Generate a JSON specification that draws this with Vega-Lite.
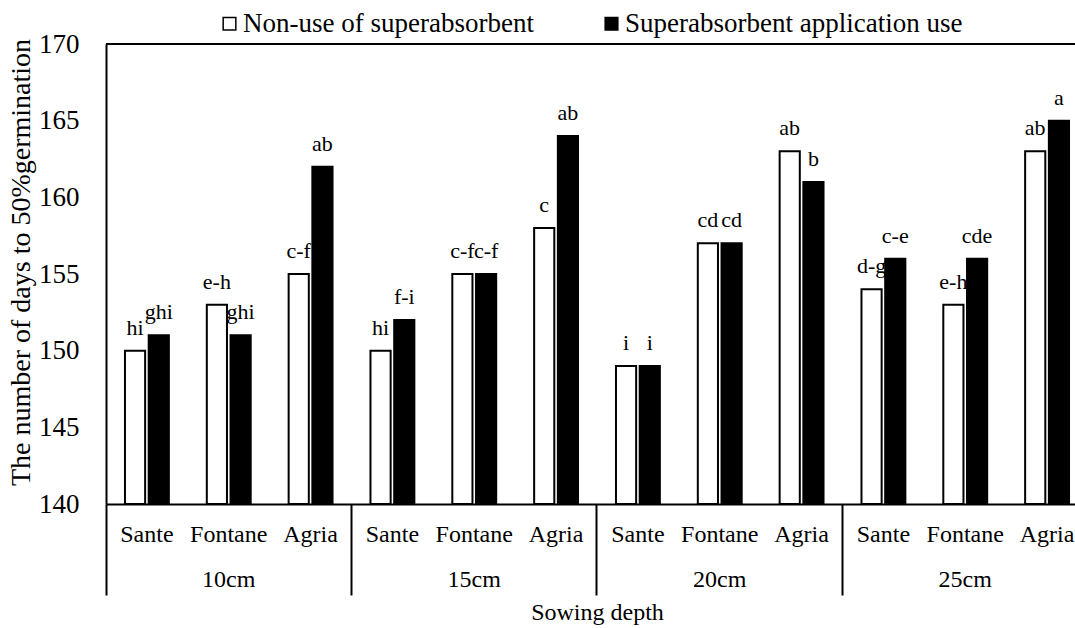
{
  "$schema": "https://vega.github.io/schema/vega-lite/v6.json",
  "width": 969,
  "height": 460,
  "autosize": "none",
  "padding": {"left": 106, "top": 44, "right": 0, "bottom": 124},
  "background": "white",
  "config": {
    "font": "Liberation Serif",
    "view": {"stroke": null},
    "text": {"font": "Liberation Serif"},
    "axis": {
      "labelFont": "Liberation Serif",
      "titleFont": "Liberation Serif",
      "labelColor": "black",
      "titleColor": "black",
      "titleFontWeight": "normal",
      "domainColor": "black",
      "tickColor": "black",
      "grid": false
    },
    "legend": {
      "labelFont": "Liberation Serif",
      "labelColor": "black"
    }
  },
  "data": {
    "values": [
      {"cat": "10cm Sante", "treat": "Non-use of superabsorbent", "val": 150, "letter": "hi"},
      {"cat": "10cm Sante", "treat": "Superabsorbent application use", "val": 151, "letter": "ghi"},
      {"cat": "10cm Fontane", "treat": "Non-use of superabsorbent", "val": 153, "letter": "e-h"},
      {"cat": "10cm Fontane", "treat": "Superabsorbent application use", "val": 151, "letter": "ghi"},
      {"cat": "10cm Agria", "treat": "Non-use of superabsorbent", "val": 155, "letter": "c-f"},
      {"cat": "10cm Agria", "treat": "Superabsorbent application use", "val": 162, "letter": "ab"},
      {"cat": "15cm Sante", "treat": "Non-use of superabsorbent", "val": 150, "letter": "hi"},
      {"cat": "15cm Sante", "treat": "Superabsorbent application use", "val": 152, "letter": "f-i"},
      {"cat": "15cm Fontane", "treat": "Non-use of superabsorbent", "val": 155, "letter": "c-f"},
      {"cat": "15cm Fontane", "treat": "Superabsorbent application use", "val": 155, "letter": "c-f"},
      {"cat": "15cm Agria", "treat": "Non-use of superabsorbent", "val": 158, "letter": "c"},
      {"cat": "15cm Agria", "treat": "Superabsorbent application use", "val": 164, "letter": "ab"},
      {"cat": "20cm Sante", "treat": "Non-use of superabsorbent", "val": 149, "letter": "i"},
      {"cat": "20cm Sante", "treat": "Superabsorbent application use", "val": 149, "letter": "i"},
      {"cat": "20cm Fontane", "treat": "Non-use of superabsorbent", "val": 157, "letter": "cd"},
      {"cat": "20cm Fontane", "treat": "Superabsorbent application use", "val": 157, "letter": "cd"},
      {"cat": "20cm Agria", "treat": "Non-use of superabsorbent", "val": 163, "letter": "ab"},
      {"cat": "20cm Agria", "treat": "Superabsorbent application use", "val": 161, "letter": "b"},
      {"cat": "25cm Sante", "treat": "Non-use of superabsorbent", "val": 154, "letter": "d-g"},
      {"cat": "25cm Sante", "treat": "Superabsorbent application use", "val": 156, "letter": "c-e"},
      {"cat": "25cm Fontane", "treat": "Non-use of superabsorbent", "val": 153, "letter": "e-h"},
      {"cat": "25cm Fontane", "treat": "Superabsorbent application use", "val": 156, "letter": "cde"},
      {"cat": "25cm Agria", "treat": "Non-use of superabsorbent", "val": 163, "letter": "ab"},
      {"cat": "25cm Agria", "treat": "Superabsorbent application use", "val": 165, "letter": "a"}
    ]
  },
  "layer": [
    {
      "mark": {"type": "bar", "stroke": "black", "strokeWidth": 2},
      "encoding": {
        "x": {
          "field": "cat", "type": "nominal", "sort": null,
          "scale": {"range": [0, 982], "paddingInner": 0, "paddingOuter": 0},
          "axis": {
            "orient": "bottom",
            "title": null, "labelExpr": "split(datum.label, ' ')[1]", "labelAngle": 0,
            "ticks": false, "domainWidth": 2, "labelFontSize": 24, "labelPadding": 18,
            "labelBaseline": "top", "labelOverlap": false
          }
        },
        "xOffset": {
          "field": "treat", "type": "nominal", "sort": null,
          "scale": {"domain": ["Non-use of superabsorbent", "Superabsorbent application use"], "paddingInner": 0.15, "paddingOuter": 0.8}
        },
        "y": {
          "field": "val", "type": "quantitative",
          "scale": {"domain": [140, 170], "zero": false, "nice": false},
          "axis": {
            "title": "The number of days to 50%germination",
            "values": [140, 145, 150, 155, 160, 165, 170],
            "ticks": false, "domainWidth": 2, "labelFontSize": 27, "labelPadding": 27,
            "titleFontSize": 28, "titlePadding": 3, "titleY": 218
          }
        },
        "y2": {"datum": 140},
        "fill": {
          "field": "treat", "type": "nominal",
          "scale": {"domain": ["Non-use of superabsorbent", "Superabsorbent application use"], "range": ["white", "black"]},
          "legend": {
            "title": null, "orient": "none", "legendX": 110, "legendY": -34,
            "direction": "horizontal", "symbolType": "square", "symbolSize": 160,
            "symbolStrokeColor": "black", "symbolStrokeWidth": 1.5,
            "labelFontSize": 27, "labelOffset": 0, "columnPadding": 64, "labelLimit": 500
          }
        }
      }
    },
    {
      "mark": {"type": "text", "dy": -16, "baseline": "alphabetic", "fontSize": 22, "color": "black"},
      "encoding": {
        "x": {
          "field": "cat", "type": "nominal", "sort": null,
          "axis": {
            "orient": "bottom",
            "title": "Sowing depth", "titleFontSize": 24, "titlePadding": 4,
            "values": ["10cm Fontane", "15cm Fontane", "20cm Fontane", "25cm Fontane"],
            "labelExpr": "split(datum.label, ' ')[0]", "labelAngle": 0,
            "bandPosition": -1, "tickSize": 91, "tickWidth": 2, "domain": false,
            "labelPadding": -28, "labelFontSize": 24, "labelBaseline": "top", "labelOverlap": false
          }
        },
        "xOffset": {"field": "treat", "type": "nominal", "sort": null},
        "y": {"field": "val", "type": "quantitative"},
        "text": {"field": "letter"}
      }
    },
    {
      "mark": {"type": "rule", "stroke": "black", "strokeWidth": 2},
      "encoding": {"y": {"datum": 170, "type": "quantitative"}}
    }
  ],
  "resolve": {"axis": {"x": "independent"}}
}
